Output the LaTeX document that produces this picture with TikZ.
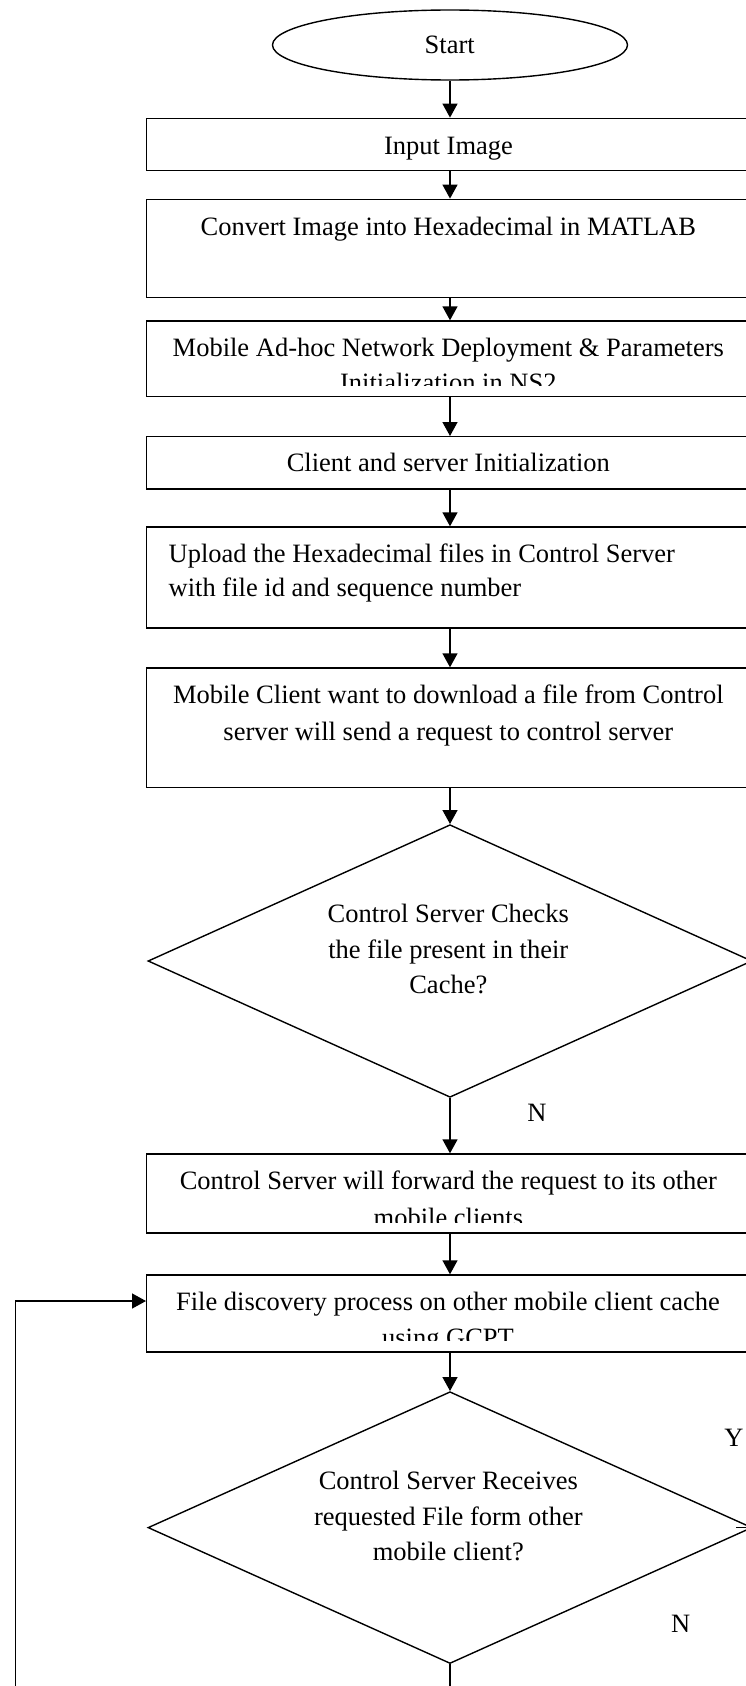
\documentclass[tikz,border=0pt]{standalone}
\usepackage{fontspec}
\setmainfont{Liberation Serif}
\usetikzlibrary{shapes.geometric,arrows.meta}
\tikzset{
  line/.style={line width=1.4pt},
  boxnode/.style={draw,line width=1.4pt,rectangle,inner sep=0pt,minimum width=606.6pt},
  decnode/.style={draw,line width=1.4pt,diamond,inner sep=0pt,minimum width=604pt},
  txt/.style={anchor=base,inner sep=0pt,font=\fontsize{26.5}{35}\selectfont},
  flow/.style={line width=1.4pt,-{Triangle[length=14pt,width=15pt]}},
}
\begin{document}
\begin{tikzpicture}[x=1pt,y=-1pt]
\useasboundingbox (0,0) rectangle (746,1686);
\fill[white] (0,0) rectangle (746,1686);

% nodes
\node[draw,line width=1.4pt,ellipse,inner sep=0pt,minimum width=355pt,minimum height=70pt] (start) at (450,45) {};
\node[txt] (tstart) at (449.7,53.3) {Start};

\node[boxnode,minimum height=52.4pt] (input) at (450,144.5) {};
\node[txt] (tinput) at (448.5,154) {Input Image};

\node[boxnode,minimum height=98pt] (convert) at (450,248.3) {};
\node[txt] (tconvert) at (448.3,235) {Convert Image into Hexadecimal in MATLAB};

\node[boxnode,minimum height=75.7pt] (adhoc) at (450,358.85) {};
\begin{scope}
\clip (140,321) rectangle (760,385.5);
\node[txt] (tadhocA) at (448.3,356.7) {Mobile Ad-hoc Network Deployment \& Parameters};
\node[txt] (tadhocB) at (448.3,391) {Initialization in NS2};
\end{scope}

\node[boxnode,minimum height=52.3pt] (client) at (450,462.85) {};
\node[txt] (tclient) at (448.3,471.7) {Client and server Initialization};

\node[boxnode,minimum height=101pt] (upload) at (450,577.5) {};
\node[txt,anchor=base west] (tuploadA) at (168.5,562) {Upload the Hexadecimal files in Control Server};
\node[txt,anchor=base west] (tuploadB) at (168.5,596) {with file id and sequence number};

\node[boxnode,minimum height=119.7pt] (mclient) at (450,727.85) {};
\node[txt] (tmclientA) at (448.3,703.7) {Mobile Client want to download a file from Control};
\node[txt] (tmclientB) at (448.3,740.3) {server will send a request to control server};

\node[decnode,minimum height=272.6pt] (dA) at (450,961) {};
\node[txt] (tdA1) at (448.3,922) {Control Server Checks};
\node[txt] (tdA2) at (448.3,958) {the file present in their};
\node[txt] (tdA3) at (448.3,993.7) {Cache?};
\node[txt] (nA) at (537,1121.3) {N};

\node[boxnode,minimum height=79pt] (forward) at (450,1193.5) {};
\begin{scope}
\clip (140,1154) rectangle (760,1222.3);
\node[txt] (tforwardA) at (448.4,1189) {Control Server will forward the request to its other};
\node[txt] (tforwardB) at (448.4,1226) {mobile clients};
\end{scope}

\node[boxnode,minimum height=77pt] (discover) at (450,1313.5) {};
\begin{scope}
\clip (140,1275) rectangle (760,1340.7);
\node[txt] (tdiscoverA) at (448,1310.7) {File discovery process on other mobile client cache};
\node[txt] (tdiscoverB) at (448,1346) {using GCPT};
\end{scope}

\node[decnode,minimum height=271.8pt] (dB) at (450,1527.6) {};
\node[txt] (tdB1) at (448.3,1489) {Control Server Receives};
\node[txt] (tdB2) at (448.3,1525) {requested File form other};
\node[txt] (tdB3) at (448.3,1560) {mobile client?};
\node[txt] (yB) at (734,1446.7) {Y};
\node[txt] (nB) at (680.8,1632) {N};

\coordinate (loopbottom) at (450,1700);
\coordinate (loopcorner) at (15.5,1700);
\coordinate (looptop) at (15.5,1301);
\coordinate (ystub) at (736,1527.6);

% connectors
\draw[flow] (start.south) -- (input.north);
\draw[flow] (input.south) -- (convert.north);
\draw[flow] (convert.south) -- (adhoc.north);
\draw[flow] (adhoc.south) -- (client.north);
\draw[flow] (client.south) -- (upload.north);
\draw[flow] (upload.south) -- (mclient.north);
\draw[flow] (mclient.south) -- (dA.north);
\draw[flow] (dA.south) -- (forward.north);
\draw[flow] (forward.south) -- (discover.north);
\draw[flow] (discover.south) -- (dB.north);
\draw[line] (dB.east) -- (ystub);
\draw[flow] (dB.south) -- (loopbottom) -- (loopcorner) -- (looptop) -- (looptop -| discover.west);
\end{tikzpicture}
\end{document}
